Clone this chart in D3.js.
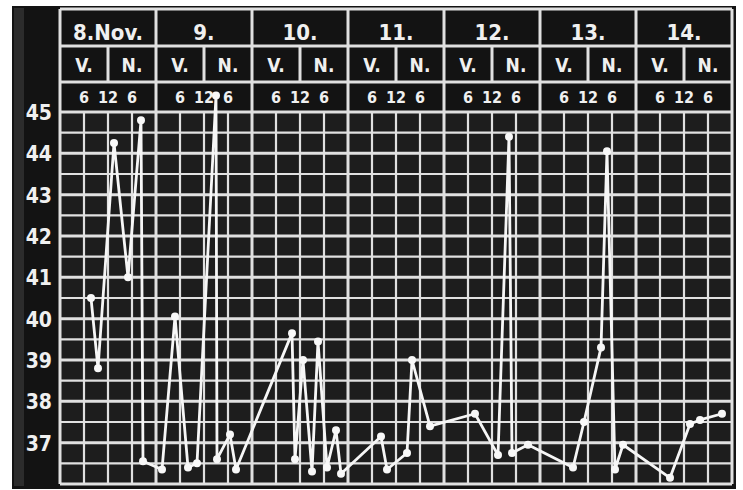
<!DOCTYPE html>
<html>
<head>
<meta charset="utf-8">
<script src="https://cdn.jsdelivr.net/npm/d3@7/dist/d3.min.js"></script>
<style>
  body { margin: 0; background: #fff; }
  svg { display: block; }
  text { font-family: "DejaVu Sans Condensed", "DejaVu Sans", sans-serif; font-weight: bold; fill: #f0f0f0; }
</style>
</head>
<body>
<svg id="chart"></svg>
<script>
// header labels
var days = ["8.Nov.", "9.", "10.", "11.", "12.", "13.", "14."];
var halfDay = ["V.", "N."];
var clockHours = [6, 12, 18];
var clockLabels = ["6", "12", "6"];
var tempTicks = [45, 44, 43, 42, 41, 40, 39, 38, 37];

// readings: hours counted from 8 Nov 0:00, temperature
var hours = [7.75, 9.5, 13.5, 17, 20.25, 20.75, 25.5, 28.75, 32, 34.25,
             39, 39.25, 42.5, 44, 58, 58.75, 60.75, 63, 64.5, 66.75,
             69, 70.25, 80.25, 81.75, 86.75, 88, 92.5, 103.75, 109.5, 112.25,
             113, 117, 128.25, 131, 135.25, 136.75, 138.75, 140.75, 152.5, 157.5,
             160, 165.5];
var temps = [40.5, 38.8, 44.25, 41.0, 44.8, 36.55, 36.35, 40.05, 36.4, 36.5,
             45.4, 36.6, 37.2, 36.35, 39.65, 36.6, 39.0, 36.3, 39.45, 36.4,
             37.3, 36.25, 37.15, 36.35, 36.75, 39.0, 37.4, 37.7, 36.7, 44.4,
             36.75, 36.95, 36.4, 37.5, 39.3, 44.05, 36.35, 36.95, 36.15, 37.45,
             37.55, 37.7];

var width = 743,
    height = 490;

var x = d3.scaleLinear().domain([0, 24 * days.length]).range([60, 732]);
var y = d3.scaleLinear().domain([36, 45]).range([484, 112]);

var svg = d3.select("#chart")
    .attr("width", width)
    .attr("height", height);

// dark board
svg.append("rect")
    .attr("x", 12).attr("y", 6)
    .attr("width", 724).attr("height", 483)
    .style("fill", "#131313");

svg.append("rect")
    .attr("x", 14).attr("y", 8)
    .attr("width", 10).attr("height", 478)
    .style("fill", "#2c2c2c");

svg.append("rect")
    .attr("x", x(0)).attr("y", y(45))
    .attr("width", x(168) - x(0)).attr("height", y(36) - y(45))
    .style("fill", "#1d1d1d");

var lineColor = "#e0e0e0";

// grid
var grid = svg.append("g").style("stroke", lineColor);

grid.selectAll("line.h")
    .data(d3.range(36, 45.01, 0.5))
    .enter().append("line")
    .attr("class", "h")
    .attr("x1", x(0)).attr("x2", x(168))
    .attr("y1", function (d) { return y(d); })
    .attr("y2", function (d) { return y(d); })
    .style("stroke-width", function (d) { return d % 1 === 0 ? 3 : 2.2; });

grid.selectAll("line.v")
    .data(d3.range(0, 169, 6))
    .enter().append("line")
    .attr("class", "v")
    .attr("y1", y(45)).attr("y2", y(36))
    .attr("x1", function (d) { return x(d); })
    .attr("x2", function (d) { return x(d); })
    .style("stroke-width", function (d) { return d % 24 === 0 ? 3 : 2.2; });

// header rows
var rowTop = 9, row2 = 46, row3 = 82, rowBottom = y(45);
var head = svg.append("g").style("stroke", lineColor).style("stroke-width", 3);

[rowTop, row2, row3].forEach(function (yy) {
    head.append("line")
        .attr("x1", x(0)).attr("x2", x(168))
        .attr("y1", yy).attr("y2", yy);
});

head.selectAll("line.day")
    .data(d3.range(0, days.length + 1))
    .enter().append("line")
    .attr("x1", function (d) { return x(d * 24); })
    .attr("x2", function (d) { return x(d * 24); })
    .attr("y1", rowTop).attr("y2", rowBottom);

head.selectAll("line.noon")
    .data(days)
    .enter().append("line")
    .attr("x1", function (d, i) { return x(i * 24 + 12); })
    .attr("x2", function (d, i) { return x(i * 24 + 12); })
    .attr("y1", row2).attr("y2", row3);

svg.selectAll("text.day")
    .data(days)
    .enter().append("text")
    .attr("class", "day")
    .attr("x", function (d, i) { return x(i * 24 + 12); })
    .attr("y", 40)
    .attr("text-anchor", "middle")
    .style("font-size", "22px")
    .text(function (d) { return d; });

days.forEach(function (d, i) {
    svg.selectAll(null)
        .data(halfDay)
        .enter().append("text")
        .attr("x", function (h, j) { return x(i * 24 + 6 + j * 12); })
        .attr("y", 72)
        .attr("text-anchor", "middle")
        .style("font-size", "19px")
        .text(function (h) { return h; });

    svg.selectAll(null)
        .data(clockHours)
        .enter().append("text")
        .attr("x", function (h) { return x(i * 24 + h); })
        .attr("y", 103)
        .attr("text-anchor", "middle")
        .style("font-size", "16px")
        .text(function (h, j) { return clockLabels[j]; });
});

// temperature labels
svg.selectAll("text.temp")
    .data(tempTicks)
    .enter().append("text")
    .attr("class", "temp")
    .attr("x", 52)
    .attr("y", function (d) { return y(d) + 8; })
    .attr("text-anchor", "end")
    .style("font-size", "21px")
    .text(function (d) { return d; });

// fever curve
var pts = hours.map(function (h, i) { return { h: h, t: temps[i] }; });

var line = d3.line()
    .x(function (d) { return x(d.h); })
    .y(function (d) { return y(d.t); });

svg.append("path")
    .datum(pts)
    .attr("d", line)
    .style("fill", "none")
    .style("stroke", "#f6f6f6")
    .style("stroke-width", 2.8)
    .style("stroke-linejoin", "round");

svg.selectAll("circle")
    .data(pts)
    .enter().append("circle")
    .attr("cx", function (d) { return x(d.h); })
    .attr("cy", function (d) { return y(d.t); })
    .attr("r", 4)
    .style("fill", "#f8f8f8");
</script>
</body>
</html>
